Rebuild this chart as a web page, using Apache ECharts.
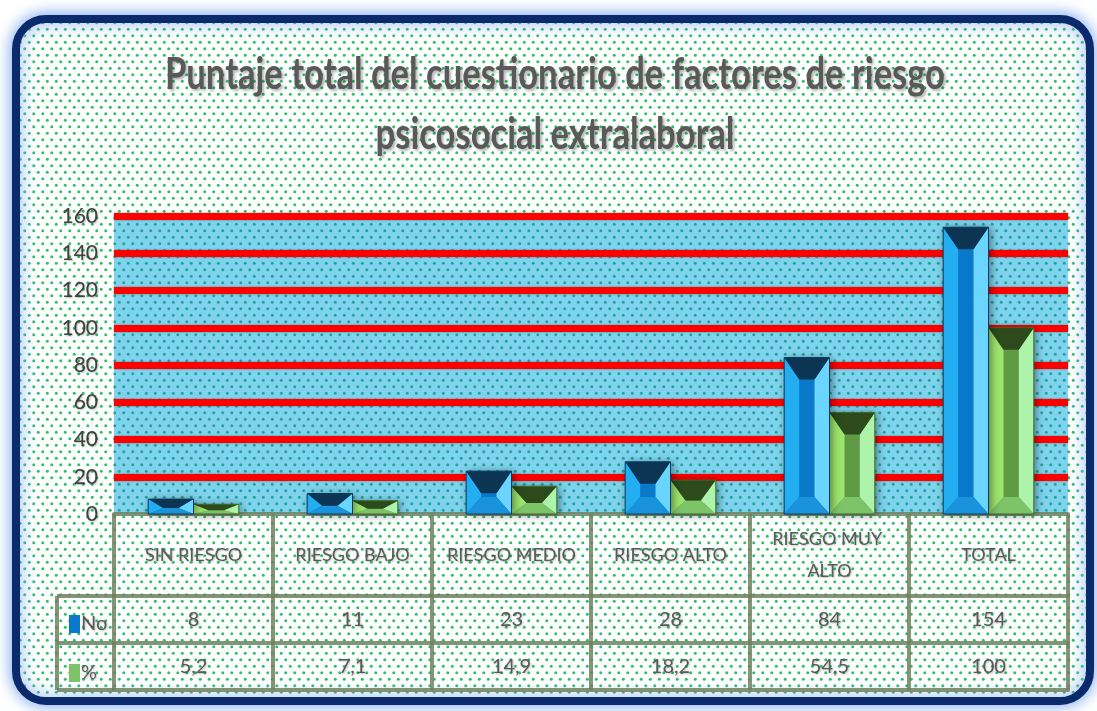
<!DOCTYPE html>
<html>
<head>
<meta charset="utf-8">
<script src="https://cdn.jsdelivr.net/npm/echarts@6/dist/echarts.min.js"></script>
<style>
  html, body { margin: 0; padding: 0; background: #ffffff; }
  #chart { width: 1097px; height: 711px; }
</style>
</head>
<body>
<div id="chart"></div>
<script>
// datos del gráfico
const categorias = ['SIN RIESGO', 'RIESGO BAJO', 'RIESGO MEDIO', 'RIESGO ALTO', 'RIESGO MUY ALTO', 'TOTAL'];
const numero = [8, 11, 23, 28, 84, 154];
const porcentaje = [5.2, 7.1, 14.9, 18.2, 54.5, 100];
const ticksY = [0, 20, 40, 60, 80, 100, 120, 140, 160];
const titulo = 'Puntaje total del cuestionario de factores de riesgo\npsicosocial extralaboral';

const FUENTE = "Lato, 'Open Sans', sans-serif";

// layout
const G_LEFT = 114, G_RIGHT = 29, G_TOP = 216, G_BOTTOM = 197;
const H_HEADER = 82, H_ROW = 47, COL_LEFT = 57;
const LINEA = '#70805f';
const TITULO_ANCHO = 780;   // ancho de la primera línea del título en la imagen
const TITULO_PX = 43;

// patrón de puntos
function puntos(fondo, punto, w, h, r) {
    const c = document.createElement('canvas');
    c.width = w; c.height = h;
    const ctx = c.getContext('2d');
    ctx.fillStyle = fondo;
    ctx.fillRect(0, 0, w, h);
    ctx.fillStyle = punto;
    [[w * 0.25, h * 0.25], [w * 0.75, h * 0.75]].forEach(p => {
        ctx.beginPath();
        ctx.arc(p[0], p[1], r, 0, Math.PI * 2);
        ctx.fill();
    });
    return c;
}
const patronFondo = puntos('#ffffff', '#2fbf6a', 9, 13, 1.5);
const patronPlot = puntos('#7fd3ee', '#22a596', 9, 13, 1.5);

// escala horizontal del título (la fuente original es más estrecha)
function escalaTitulo(font) {
    const c = document.createElement('canvas').getContext('2d');
    c.font = font;
    const w = c.measureText(titulo.split('\n')[0]).width;
    return w > 0 ? TITULO_ANCHO / w : 1;
}
const escala = escalaTitulo('bold ' + TITULO_PX + 'px Lato');

function fmtPct(v) {
    return Number.isInteger(v) ? String(v) : String(v).replace('.', ',');
}

const azul = {
    top: '#0c3453', left: '#22aef0', right: '#6ad6ff', bottom: '#1893dc', center: '#0a79c9', stroke: '#0b3a63'
};
const verde = {
    top: '#2c4a1b', left: '#9de56e', right: '#aef3aa', bottom: '#7dc468', center: '#5f9a44', stroke: '#3d6a2a'
};

// barras biseladas dibujadas con las escalas de echarts
function barraBisel(pal, lado) {
    return function (params, api) {
        const cat = api.value(0);
        const val = api.value(1);
        const base = api.coord([cat, 0]);
        const tope = api.coord([cat, val]);
        const banda = api.size([1, 0])[0];
        const w = banda * 0.285;
        const x0 = lado < 0 ? base[0] - w : base[0];
        const x1 = x0 + w;
        const y0 = tope[1], y1 = base[1];
        const h = y1 - y0;
        const s = Math.min(15, w / 2);
        const t = Math.min(22, h * 0.6);
        const b = Math.min(17, h - t);
        const iy0 = y0 + t, iy1 = Math.max(iy0, y1 - b);
        const A = [x0, y0], B = [x1, y0], C = [x1, y1], D = [x0, y1];
        const a = [x0 + s, iy0], bb = [x1 - s, iy0], c = [x1 - s, iy1], d = [x0 + s, iy1];
        const poly = (pts, fill) => ({ type: 'polygon', shape: { points: pts }, style: { fill: fill } });
        return {
            type: 'group',
            children: [
                { type: 'rect', shape: { x: x0, y: y0, width: w, height: h },
                  style: { fill: pal.center, shadowBlur: 8, shadowColor: 'rgba(0,0,0,0.45)', shadowOffsetX: 2, shadowOffsetY: 1 } },
                poly([a, bb, c, d], pal.center),
                poly([A, a, d, D], pal.left),
                poly([B, C, c, bb], pal.right),
                poly([D, d, c, C], pal.bottom),
                poly([A, B, bb, a], pal.top),
                { type: 'rect', shape: { x: x0, y: y0, width: w, height: h },
                  style: { fill: 'none', stroke: pal.stroke, lineWidth: 1 } }
            ]
        };
    };
}

const chart = echarts.init(document.getElementById('chart'), null, { renderer: 'canvas' });

const sombraTexto = { textShadowColor: 'rgba(0,0,0,0.25)', textShadowBlur: 2, textShadowOffsetX: 1, textShadowOffsetY: 1 };

const ejeTabla = (offset, datos, labelShow) => ({
    type: 'category',
    gridIndex: 0,
    position: 'bottom',
    offset: offset,
    data: datos,
    axisLine: { show: true, lineStyle: { color: LINEA, width: 4, opacity: 0.85 } },
    axisTick: { show: false },
    axisLabel: Object.assign({
        show: labelShow, interval: 0, margin: H_ROW / 2, verticalAlign: 'middle',
        color: '#595959', fontSize: 20, fontFamily: FUENTE
    }, sombraTexto)
});

const yTop = 711 - G_BOTTOM;
const fila1 = yTop + H_HEADER, fila2 = fila1 + H_ROW, fila3 = fila2 + H_ROW;
const lineaTabla = (x1, y1, x2, y2) => ({
    type: 'line', shape: { x1: x1, y1: y1, x2: x2, y2: y2 },
    style: { stroke: LINEA, lineWidth: 4, opacity: 0.85 }
});

const option = {
    backgroundColor: '#ffffff',
    animation: false,
    graphic: [
        {
            type: 'rect', z: -10,
            shape: { x: 16, y: 19, width: 1074, height: 682, r: 30 },
            style: {
                fill: { image: patronFondo, repeat: 'repeat' },
                stroke: '#0b2a6c', lineWidth: 8,
                shadowBlur: 16, shadowColor: '#7aa6ee'
            }
        },
        {
            type: 'text', z: 10,
            x: 555, y: 45,
            scaleX: escala,
            style: {
                text: titulo,
                align: 'center',
                verticalAlign: 'top',
                fill: '#595959',
                fontSize: TITULO_PX,
                fontWeight: 'bold',
                fontFamily: 'Lato',
                lineHeight: 60,
                textShadowColor: 'rgba(0,0,0,0.3)', textShadowBlur: 3, textShadowOffsetX: 2, textShadowOffsetY: 2
            }
        },
        // columna de la leyenda en la tabla
        lineaTabla(COL_LEFT, fila1, G_LEFT, fila1),
        lineaTabla(COL_LEFT, fila2, G_LEFT, fila2),
        lineaTabla(COL_LEFT, fila3, G_LEFT, fila3),
        lineaTabla(COL_LEFT, fila1, COL_LEFT, fila3)
    ],
    legend: {
        data: ['No', '%'],
        orient: 'vertical',
        left: 64,
        top: fila1 + 13,
        itemWidth: 11,
        itemHeight: 18,
        itemGap: 29,
        icon: 'rect',
        textStyle: Object.assign({ color: '#595959', fontSize: 20, fontFamily: FUENTE, padding: [0, 0, 3, -4] }, sombraTexto)
    },
    grid: {
        left: G_LEFT, right: G_RIGHT, top: G_TOP, bottom: G_BOTTOM,
        show: true,
        borderWidth: 0,
        backgroundColor: { image: patronPlot, repeat: 'repeat' }
    },
    xAxis: [
        {
            type: 'category',
            data: categorias,
            axisLine: { show: true, lineStyle: { color: LINEA, width: 4, opacity: 0.85 } },
            axisTick: { show: true, interval: 0, length: H_HEADER + 2 * H_ROW, lineStyle: { color: LINEA, width: 4, opacity: 0.85 } },
            axisLabel: Object.assign({
                interval: 0, margin: H_HEADER / 2, verticalAlign: 'middle',
                color: '#595959', fontSize: 18, fontFamily: FUENTE,
                width: 150, overflow: 'break', lineHeight: 32
            }, sombraTexto),
            splitLine: { show: false }
        },
        ejeTabla(H_HEADER, numero.map(String), true),
        ejeTabla(H_HEADER + H_ROW, porcentaje.map(fmtPct), true),
        ejeTabla(H_HEADER + 2 * H_ROW, categorias, false)
    ],
    yAxis: {
        type: 'value',
        min: ticksY[0],
        max: ticksY[ticksY.length - 1],
        interval: 20,
        axisLine: { show: false },
        axisTick: { show: false },
        axisLabel: Object.assign({ color: '#404040', fontSize: 21, fontFamily: FUENTE, margin: 16 }, sombraTexto),
        splitLine: {
            show: true,
            lineStyle: {
                color: ticksY.map((v, i) => i === 0 ? 'rgba(0,0,0,0)' : '#ff0000'),
                width: 7,
                shadowColor: 'rgba(80,0,0,0.5)', shadowBlur: 2
            }
        }
    },
    series: [
        {
            name: 'No',
            type: 'custom',
            renderItem: barraBisel(azul, -1),
            itemStyle: { color: '#0a79c9' },
            encode: { x: 0, y: 1 },
            data: numero.map((v, i) => [i, v]),
            z: 5
        },
        {
            name: '%',
            type: 'custom',
            renderItem: barraBisel(verde, 1),
            itemStyle: { color: '#7dc468' },
            encode: { x: 0, y: 1 },
            data: porcentaje.map((v, i) => [i, v]),
            z: 4
        }
    ]
};

chart.setOption(option);
</script>
</body>
</html>
